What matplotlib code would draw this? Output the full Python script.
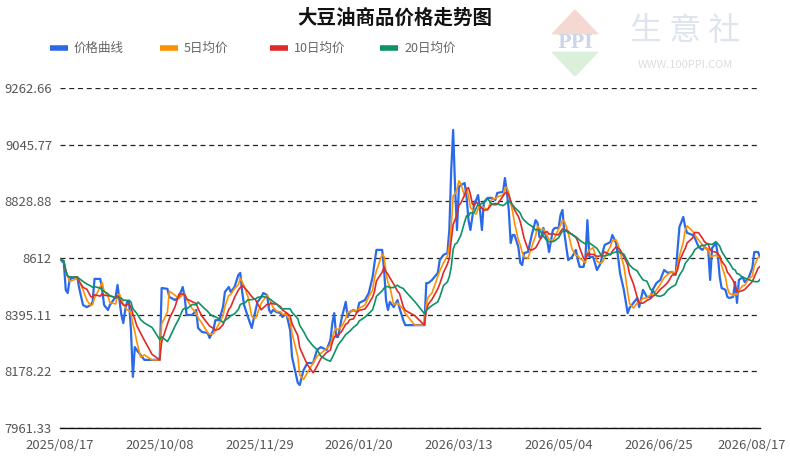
import numpy as np
import pandas as pd
import matplotlib
matplotlib.use("Agg")
import matplotlib.pyplot as plt
from matplotlib.lines import Line2D
from matplotlib.patches import Polygon
from matplotlib.transforms import ScaledTranslation

plt.rcParams['font.family'] = ['Noto Sans CJK SC', 'DejaVu Sans']

start = pd.Timestamp("2025-08-17")

# daily price readings: day offset from 2025/08/17, price
day = [0, 2, 3, 4, 5, 6, 9, 10, 12, 14, 16, 17, 18, 21, 22, 23, 25, 26, 29, 30,
       31, 32, 33, 34, 35, 36, 37, 38, 39, 40, 42, 44, 48, 52, 53, 56, 57, 60, 62, 64,
       65, 66, 69, 71, 72, 74, 77, 78, 80, 81, 83, 85, 86, 88, 89, 91, 93, 94, 95, 96,
       98, 100, 102, 103, 105, 106, 108, 109, 110, 111, 113, 115, 116, 118, 120, 121, 124, 125, 127, 129,
       132, 134, 136, 139, 141, 142, 143, 144, 145, 147, 149, 150, 151, 153, 155, 156, 159, 161, 163, 164,
       165, 168, 169, 170, 171, 172, 174, 176, 177, 179, 180, 185, 190, 191, 192, 194, 197, 198, 200, 202,
       203, 204, 205, 206, 207, 208, 209, 211, 212, 213, 214, 215, 216, 217, 218, 219, 220, 221, 223, 225,
       227, 228, 231, 232, 233, 234, 235, 236, 237, 239, 240, 241, 242, 244, 246, 248, 249, 250, 251, 252,
       254, 255, 257, 258, 260, 261, 262, 263, 264, 265, 267, 269, 270, 271, 273, 274, 275, 276, 278, 280,
       282, 283, 284, 287, 288, 290, 291, 292, 294, 296, 297, 299, 301, 302, 304, 306, 308, 309, 311, 313,
       315, 317, 319, 321, 322, 323, 325, 326, 327, 330, 331, 333, 335, 336, 338, 339, 340, 342, 343, 344,
       345, 347, 348, 349, 351, 352, 353, 354, 356, 357, 359, 361, 362, 364, 365]
price = [8608, 8593, 8490, 8478, 8528, 8535, 8539, 8497, 8432, 8424, 8432, 8444, 8532, 8532, 8490, 8432, 8413, 8432, 8463, 8509,
         8451, 8394, 8363, 8413, 8444, 8444, 8336, 8157, 8271, 8260, 8241, 8222, 8222, 8222, 8497, 8494, 8463, 8451, 8463, 8501,
         8463, 8394, 8394, 8413, 8344, 8329, 8325, 8306, 8336, 8374, 8374, 8424, 8482, 8501, 8482, 8501, 8547, 8555, 8482, 8432,
         8386, 8344, 8413, 8444, 8463, 8478, 8470, 8413, 8401, 8413, 8405, 8401, 8386, 8401, 8336, 8233, 8134, 8126, 8183, 8210,
         8210, 8260, 8271, 8260, 8298, 8363, 8401, 8310, 8310, 8386, 8444, 8386, 8405, 8413, 8405, 8440, 8451, 8478, 8539, 8593,
         8643, 8643, 8566, 8451, 8413, 8444, 8424, 8451, 8421, 8374, 8355, 8355, 8355, 8516, 8516, 8528, 8555, 8604, 8624, 8631,
         8719, 8949, 9102, 8884, 8719, 8884, 8891, 8899, 8845, 8757, 8719, 8769, 8823, 8834, 8853, 8796, 8719, 8826, 8842, 8842,
         8834, 8861, 8865, 8918, 8865, 8796, 8669, 8700, 8700, 8654, 8593, 8585, 8631, 8635, 8700, 8757, 8746, 8692, 8689, 8727,
         8681, 8635, 8719, 8727, 8727, 8777, 8796, 8708, 8654, 8604, 8616, 8643, 8604, 8578, 8578, 8616, 8757, 8616, 8616, 8566,
         8593, 8635, 8662, 8673, 8700, 8669, 8616, 8555, 8490, 8401, 8421, 8440, 8459, 8424, 8490, 8463, 8463, 8490, 8516, 8528,
         8566, 8555, 8559, 8547, 8643, 8731, 8769, 8731, 8708, 8700, 8689, 8654, 8643, 8654, 8643, 8528, 8650, 8669, 8624, 8539,
         8497, 8490, 8463, 8459, 8463, 8520, 8440, 8528, 8539, 8520, 8535, 8574, 8635, 8635, 8616]

y_ticks = [7961.33, 8178.22, 8395.11, 8612, 8828.88, 9045.77, 9262.66]
y_labels = ["7961.33", "8178.22", "8395.11", "8612", "8828.88", "9045.77", "9262.66"]
x_ticks = [0, 52, 104, 156, 208, 260, 312, 365]
x_labels = ["2025/08/17", "2025/10/08", "2025/11/29", "2026/01/20",
            "2026/03/13", "2026/05/04", "2026/06/25", "2026/08/17"]

s = pd.Series(price, index=start + pd.to_timedelta(day, unit="D"), dtype=float)
ma5 = s.rolling("5D").mean()
ma10 = s.rolling("10D").mean()
ma20 = s.rolling("20D").mean()

c_blue = "#2a6ae9"
c_orange = "#ff9100"
c_red = "#e02a2a"
c_green = "#0d9365"

fig = plt.figure(figsize=(7.9, 4.58), dpi=100)
ax = fig.add_axes([60/790, 1-428/458, 700/790, 340/458])

ax.plot(day, s.values, color=c_blue, lw=1.6, zorder=3)
ax.plot(day, ma5.values, color=c_orange, lw=1.2, zorder=4)
ax.plot(day, ma10.values, color=c_red, lw=1.2, zorder=5)
ax.plot(day, ma20.values, color=c_green, lw=1.2, zorder=6)

ax.set_xlim(0, 365)
ax.set_ylim(y_ticks[0], y_ticks[-1])
ax.set_yticks(y_ticks)
ax.set_yticklabels(y_labels)
ax.set_xticks(x_ticks)
ax.set_xticklabels(x_labels)
ax.set_xticks(x_ticks[1:-1], minor=True)
ax.tick_params(which="major", length=0, labelsize=9.4, colors="#555555")
ax.tick_params(axis="x", which="major", pad=8)
ax.tick_params(axis="y", pad=5.8)
ax.tick_params(axis="x", which="minor", length=4, width=1, color="#111111", direction="out")
for sp in ["top", "left", "right"]:
    ax.spines[sp].set_visible(False)
ax.spines["bottom"].set_color("#111111")
ax.spines["bottom"].set_linewidth(1.0)
ax.spines["bottom"].set_zorder(2.5)
ax.grid(axis="y", color="#222222", lw=0.9, linestyle=(0, (4, 3)))
ax.set_axisbelow(True)

last = ax.get_xticklabels()[-1]
last.set_transform(last.get_transform() + ScaledTranslation(-8/100, 0, fig.dpi_scale_trans))

fig.text(395/790, 1-18/458, "大豆油商品价格走势图", ha="center", va="center",
         fontsize=14, fontweight="bold", color="#111111")

legend_items = [("价格曲线", c_blue), ("5日均价", c_orange),
                ("10日均价", c_red), ("20日均价", c_green)]
for i, (lab, col) in enumerate(legend_items):
    x0 = 50 + i*110
    fig.add_artist(Line2D([x0/790, (x0+18)/790], [1-48/458, 1-48/458],
                          color=col, lw=4, solid_capstyle="butt"))
    fig.text((x0+24)/790, 1-48/458, lab, ha="left", va="center",
             fontsize=9, color="#666666")

# watermark logo
lax = fig.add_axes([550/790, 1-76/458, 50/790, 66/458])
lax.set_xlim(0, 1)
lax.set_ylim(0, 1)
lax.axis("off")
lax.add_patch(Polygon([[0.05, 0.64], [0.95, 0.64], [0.5, 1.0]], color="#f6d8d3"))
lax.add_patch(Polygon([[0.05, 0.36], [0.95, 0.36], [0.5, 0.0]], color="#daf0da"))
lax.text(0.5, 0.5, "PPI", ha="center", va="center", fontsize=13,
         color="#cdd6e8", family="DejaVu Serif", fontweight="bold")
fig.text(685/790, 1-31/458, "生 意 社", ha="center", va="center",
         fontsize=23, color="#dfe4ee")
fig.text(685/790, 1-65/458, "WWW.100PPI.COM", ha="center", va="center",
         fontsize=8, color="#dddddd")

fig.savefig("out.png", dpi=100)
